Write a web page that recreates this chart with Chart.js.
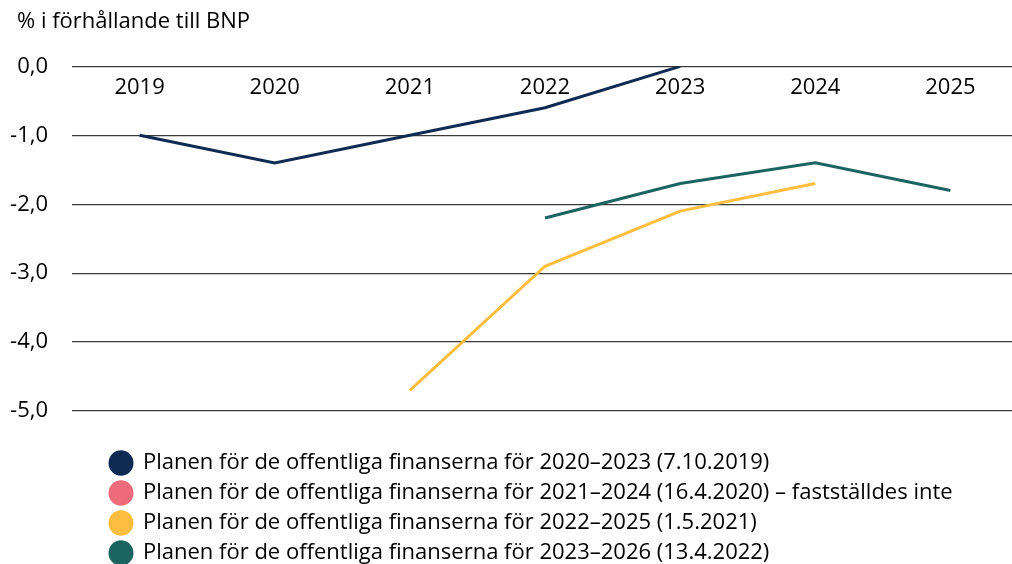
<!DOCTYPE html>
<html><head><meta charset="utf-8">
<script src="https://cdn.jsdelivr.net/npm/chart.js@4/dist/chart.umd.min.js"></script>
<style>html,body{margin:0;padding:0;background:#fff;overflow:hidden}#wrap{width:1018px;height:564px}</style>
</head><body><div id="wrap"><canvas id="c"></canvas></div>
<script>
const years = ["2019","2020","2021","2022","2023","2024","2025"];
const yTicks = [0,-1,-2,-3,-4,-5];
const plan2020 = [-1.0,-1.4,-1.0,-0.6,0.0,null,null];
const plan2021 = [null,null,null,null,null,null,null];
const plan2022 = [null,null,-4.7,-2.9,-2.1,-1.7,null];
const plan2023 = [null,null,null,-2.2,-1.7,-1.4,-1.8];
const seriesNames = [
  "Planen för de offentliga finanserna för 2020–2023 (7.10.2019)",
  "Planen för de offentliga finanserna för 2021–2024 (16.4.2020) – fastställdes inte",
  "Planen för de offentliga finanserna för 2022–2025 (1.5.2021)",
  "Planen för de offentliga finanserna för 2023–2026 (13.4.2022)"
];
const colors = ["#0f2b53","#ee6b7b","#fdbd3f","#1c6461"];
const FONT = "'Open Sans', sans-serif";

const boxShift = {
  id: 'boxShift',
  beforeDraw(chart) {
    if (chart.legend) { chart.legend.left = 102; chart.legend.top = 444; chart.legend.bottom = 580; }
    if (chart.titleBlock) { chart.titleBlock.left = 17; }
  }
};

const mk = (i, data) => ({
  label: seriesNames[i], data, borderColor: colors[i], backgroundColor: colors[i],
  borderWidth: 3, pointRadius: 0, tension: 0, spanGaps: false, fill: false
});

new Chart(document.getElementById('c'), {
  type: 'line',
  data: { labels: years, datasets: [mk(0,plan2020), mk(1,plan2021), mk(2,plan2022), mk(3,plan2023)] },
  plugins: [boxShift],
  options: {
    responsive: true, maintainAspectRatio: false, animation: false,
    layout: { padding: { left: 10, right: 0, top: 4, bottom: 23 } },
    plugins: {
      title: { display: true, text: "% i förhållande till BNP", align: 'start',
        color: '#000', font: { family: FONT, size: 22, weight: 'normal' }, padding: { top: 5, bottom: 31 } },
      legend: { position: 'bottom', align: 'start',
        labels: { usePointStyle: true, pointStyle: 'circle', boxWidth: 16, boxHeight: 16, pointStyleWidth: 22,
          color: '#000', font: { family: FONT, size: 22 }, padding: 8 } },
      tooltip: { enabled: false }
    },
    scales: {
      x: { position: { y: 0 }, offset: true,
        grid: { display: false }, border: { display: false },
        ticks: { color: '#000', font: { family: FONT, size: 22 }, padding: 0, maxRotation: 0 } },
      y: { min: -5, max: 0,
        afterBuildTicks: (s) => { s.ticks = yTicks.map(v => ({ value: v })); },
        afterFit: (s) => { s.width = 62; },
        grid: { color: '#3a3a3a', lineWidth: 1.3, drawTicks: false }, border: { display: false },
        ticks: { color: '#000', font: { family: FONT, size: 22 }, padding: 24,
          callback: (v) => (v === 0 ? 0 : v).toFixed(1).replace('.', ',') } }
    }
  }
});
</script></body></html>
